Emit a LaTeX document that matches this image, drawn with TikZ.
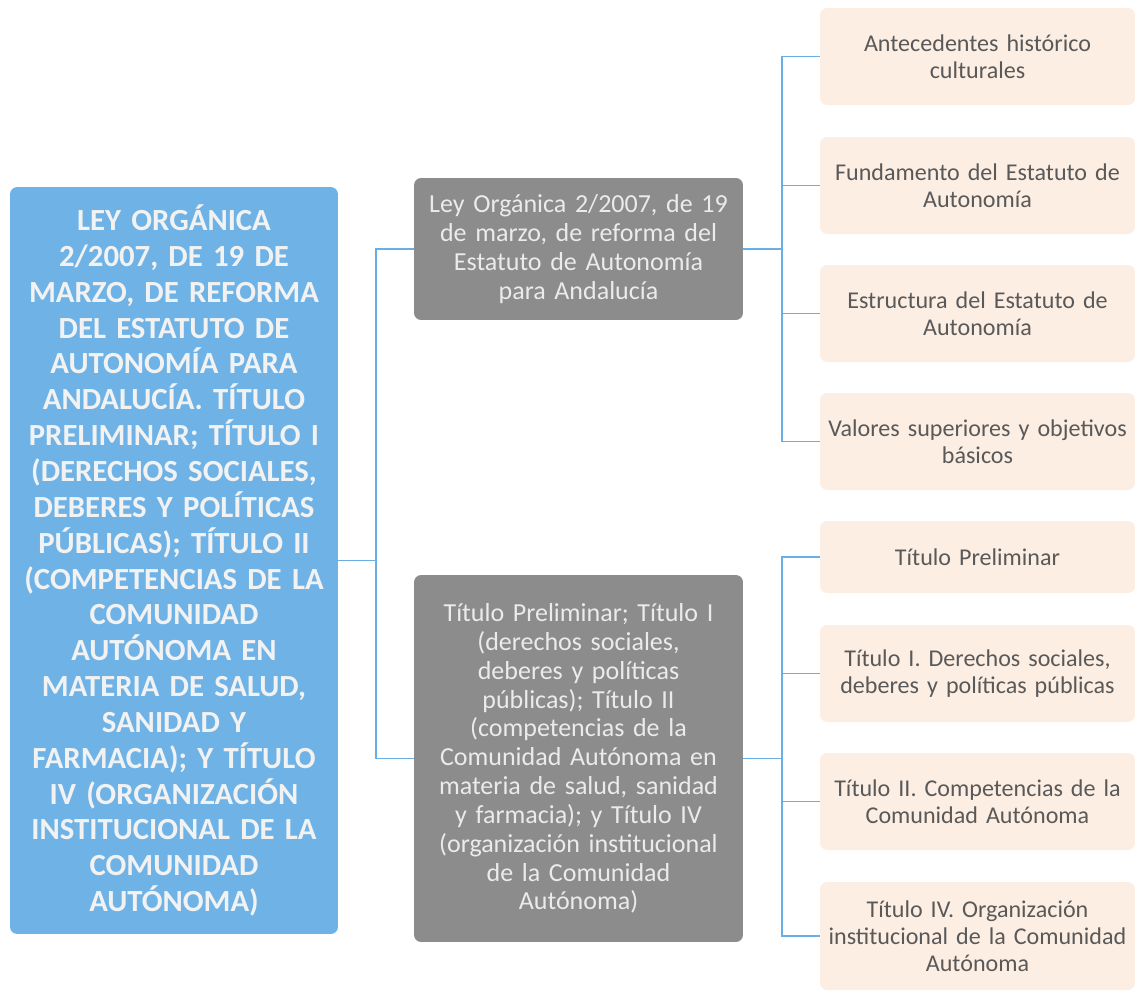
\documentclass[tikz,border=0pt]{standalone}
\usepackage{fontspec}
\setmainfont{Carlito}
\definecolor{leyblue}{HTML}{6FB3E6}
\definecolor{midgrey}{HTML}{8C8C8C}
\definecolor{peach}{HTML}{FDEEE3}
\definecolor{linkblue}{HTML}{6AAEE6}
\definecolor{txtgrey}{HTML}{595959}
\tikzset{
  leybox/.style={fill=leyblue, rounded corners=4pt, minimum width=6.56cm, minimum height=14.94cm, text width=6.2cm, align=center, text=white!95!black, font=\fontsize{17.5}{20.4}\selectfont\bfseries},
  partbox/.style={fill=midgrey, rounded corners=4pt, minimum width=6.58cm, text width=6.2cm, align=center, text=white!92!black, font=\fontsize{14.8}{16.4}\selectfont},
  itembox/.style={fill=peach, rounded corners=4pt, minimum width=6.3cm, inner xsep=1pt, text width=6.2cm, align=center, text=txtgrey, font=\fontsize{13.7}{15.3}\selectfont},
  link/.style={draw=linkblue, line width=0.85pt}
}
\begin{document}
\begin{tikzpicture}[x=0.02cm, y=-0.02cm]
\useasboundingbox (0,0) rectangle (1135,992);
\node[leybox] (ley) at (174,560.5) {LEY ORGÁNICA\\2/2007, DE 19 DE\\MARZO, DE REFORMA\\DEL ESTATUTO DE\\AUTONOMÍA PARA\\ANDALUCÍA. TÍTULO\\PRELIMINAR; TÍTULO I\\(DERECHOS SOCIALES,\\DEBERES Y POLÍTICAS\\PÚBLICAS); TÍTULO II\\(COMPETENCIAS DE LA\\COMUNIDAD\\AUTÓNOMA EN\\MATERIA DE SALUD,\\SANIDAD Y\\FARMACIA); Y TÍTULO\\IV (ORGANIZACIÓN\\INSTITUCIONAL DE LA\\COMUNIDAD\\AUTÓNOMA)};
\node[partbox, minimum height=2.84cm] (ley2007) at (578.5,249) {Ley Orgánica 2/2007, de 19\\de marzo, de reforma del\\Estatuto de Autonomía\\para Andalucía};
\node[partbox, minimum height=7.34cm] (titulos) at (578.5,758.5) {Título Preliminar; Título I\\(derechos sociales,\\deberes y políticas\\públicas); Título II\\(competencias de la\\Comunidad Autónoma en\\materia de salud, sanidad\\y farmacia); y Título IV\\(organización institucional\\de la Comunidad\\Autónoma)};
% upper group
\node[itembox, minimum height=1.94cm] (antec) at (977.5,56.5) {Antecedentes histórico\\culturales};
\node[itembox, minimum height=1.94cm] (fund) at (977.5,185.5) {Fundamento del Estatuto de\\Autonomía};
\node[itembox, minimum height=1.94cm] (estr) at (977.5,313.5) {Estructura del Estatuto de\\Autonomía};
\node[itembox, minimum height=1.94cm] (valores) at (977.5,441.5) {Valores superiores y objetivos\\básicos};
% lower group
\node[itembox, minimum height=1.44cm] (tprel) at (977.5,557) {Título Preliminar};
\node[itembox, minimum height=1.94cm] (tI) at (977.5,673.5) {Título I. Derechos sociales,\\deberes y políticas públicas};
\node[itembox, minimum height=1.94cm] (tII) at (977.5,801.5) {Título II. Competencias de la\\Comunidad Autónoma};
\node[itembox, minimum height=2.16cm] (tIV) at (977.5,936) {Título IV. Organización\\institucional de la Comunidad\\Autónoma};
% connectors
\coordinate (fork) at (376,560.5);
\draw[link] (ley.east) -- (fork);
\draw[link] (fork) |- (ley2007.west);
\draw[link] (fork) |- (titulos.west);
\coordinate (forkup) at (782,249);
\draw[link] (ley2007.east) -- (forkup);
\foreach \n in {antec,fund,estr,valores} \draw[link] (forkup) |- (\n.west);
\coordinate (forklow) at (782,758.5);
\draw[link] (titulos.east) -- (forklow);
\foreach \n in {tprel,tI,tII,tIV} \draw[link] (forklow) |- (\n.west);
\end{tikzpicture}
\end{document}
